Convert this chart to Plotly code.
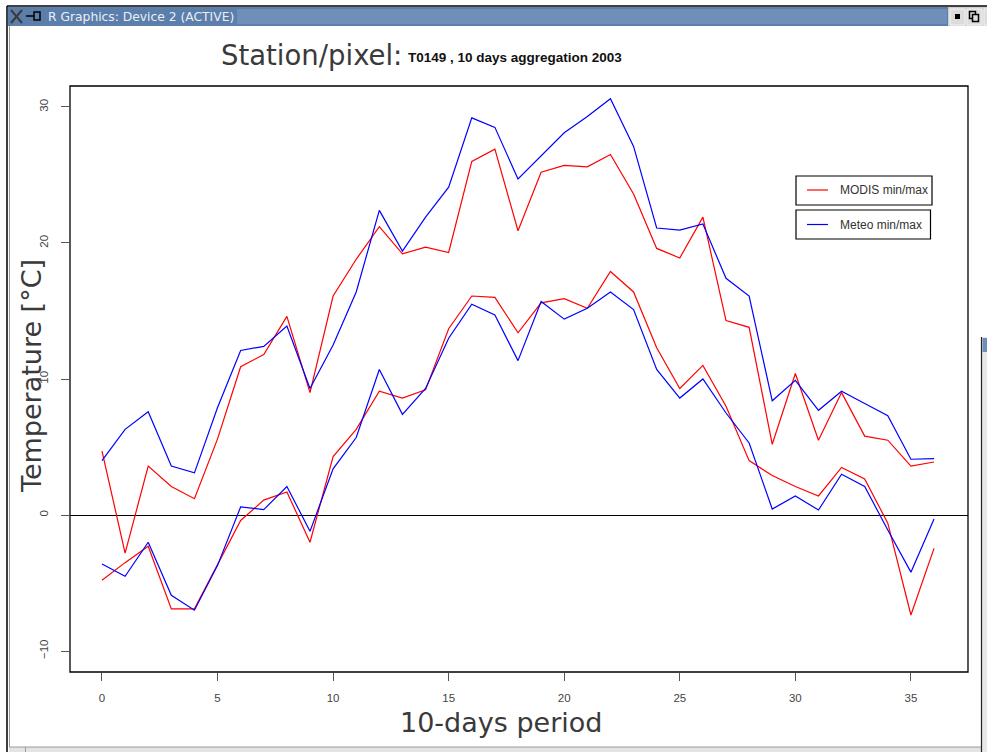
import plotly.graph_objects as go

# ---- data ----
period = list(range(37))
modis_max = [4.7, -2.8, 3.6, 2.1, 1.2, 5.6, 10.9, 11.8, 14.6, 9.0, 16.1, 18.8, 21.2, 19.2, 19.7, 19.3,
             26.0, 26.9, 20.9, 25.2, 25.7, 25.6, 26.5, 23.6, 19.6, 18.9, 21.9, 14.3, 13.8, 5.2, 10.4,
             5.5, 9.0, 5.8, 5.5, 3.6, 3.9]
meteo_max = [4.0, 6.3, 7.6, 3.6, 3.1, 7.9, 12.1, 12.4, 13.9, 9.3, 12.5, 16.4, 22.4, 19.4, 21.9, 24.1,
             29.2, 28.5, 24.7, 26.4, 28.1, 29.3, 30.6, 27.1, 21.1, 20.95, 21.4, 17.4, 16.1, 8.4, 9.9,
             7.7, 9.1, 8.2, 7.3, 4.1, 4.15]
modis_min = [-4.8, -3.5, -2.3, -6.9, -6.9, -3.7, -0.4, 1.1, 1.7, -2.0, 4.3, 6.3, 9.1, 8.6, 9.2, 13.7,
             16.1, 16.0, 13.4, 15.6, 15.9, 15.2, 17.9, 16.4, 12.3, 9.3, 11.0, 8.0, 4.0, 2.9, 2.1,
             1.4, 3.5, 2.65, -0.6, -7.35, -2.45]
meteo_min = [-3.6, -4.5, -2.0, -5.9, -7.0, -3.7, 0.6, 0.4, 2.1, -1.2, 3.4, 5.7, 10.7, 7.4, 9.3, 13.0,
             15.5, 14.7, 11.35, 15.7, 14.4, 15.2, 16.4, 15.1, 10.7, 8.6, 10.0, 7.5, 5.3, 0.44, 1.4,
             0.37, 3.0, 2.1, -1.1, -4.2, -0.3]
x_ticks = [0, 5, 10, 15, 20, 25, 30, 35]
y_ticks = [-10, 0, 10, 20, 30]
legend_labels = ["MODIS min/max", "Meteo min/max"]
series_colors = ["#ff0000", "#0000ff"]

W, H = 987, 752
L, R, T, B = 70, 19, 86, 80
PW, PH = W - L - R, H - T - B


def px(x):
    return (x - L) / PW


def py(y):
    return (H - B - y) / PH


fig = go.Figure()
for ys, col in [(modis_max, series_colors[0]), (meteo_max, series_colors[1]),
                (modis_min, series_colors[0]), (meteo_min, series_colors[1])]:
    fig.add_trace(go.Scatter(x=period, y=ys, mode="lines", line=dict(color=col, width=1.2),
                             showlegend=False, hoverinfo="skip"))

shapes = []
annotations = []

# plot box
shapes.append(dict(type="rect", xref="paper", yref="paper", x0=0, x1=1, y0=0, y1=1,
                   line=dict(color="black", width=1.3)))

# legend (two separate boxes, as in the reference)
leg = [(176, 205, 190), (210, 239, 224.5)]
for i, (y0, y1, yc) in enumerate(leg):
    shapes.append(dict(type="rect", xref="paper", yref="paper", x0=px(796), x1=px(932 if i == 0 else 930.5),
                       y0=py(y1), y1=py(y0), line=dict(color="black", width=1.2), fillcolor="white"))
    shapes.append(dict(type="line", xref="paper", yref="paper", x0=px(807), x1=px(828), y0=py(yc), y1=py(yc),
                       line=dict(color=series_colors[i], width=1.2)))
    annotations.append(dict(x=px(838), y=py(yc), xref="paper", yref="paper", text=legend_labels[i],
                            showarrow=False, xanchor="left", yanchor="middle",
                            font=dict(family="Liberation Sans", size=12, color="#333333")))

# titles
annotations.append(dict(x=px(219), y=py(55), xref="paper", yref="paper", text="Station/pixel:",
                        showarrow=False, xanchor="left", yanchor="middle",
                        font=dict(family="DejaVu Sans", size=27.5, color="#3a3a3a")))
annotations.append(dict(x=px(406), y=py(57), xref="paper", yref="paper",
                        text="<b>T0149 , 10 days aggregation 2003</b>",
                        showarrow=False, xanchor="left", yanchor="middle",
                        font=dict(family="Liberation Sans", size=13.5, color="#111111")))
annotations.append(dict(x=px(501), y=py(722), xref="paper", yref="paper", text="10-days period",
                        showarrow=False, xanchor="center", yanchor="middle",
                        font=dict(family="DejaVu Sans", size=27, color="#3a3a3a")))
annotations.append(dict(x=px(31), y=py(376), xref="paper", yref="paper", text="Temperature [°C]",
                        showarrow=False, xanchor="center", yanchor="middle", textangle=-90,
                        font=dict(family="DejaVu Sans", size=27, color="#3a3a3a")))

# ---- window chrome ----
shapes += [
    dict(type="rect", xref="paper", yref="paper", x0=px(8), x1=px(948), y0=py(26), y1=py(7),
         line=dict(width=0), fillcolor="#5b7eab"),
    dict(type="rect", xref="paper", yref="paper", x0=px(237), x1=px(947), y0=py(24), y1=py(9),
         line=dict(width=0), fillcolor="#6f8fb9"),
    dict(type="rect", xref="paper", yref="paper", x0=px(948), x1=px(987), y0=py(26), y1=py(7),
         line=dict(width=0), fillcolor="#cfcfcf"),
    dict(type="rect", xref="paper", yref="paper", x0=px(950), x1=px(965), y0=py(25), y1=py(9),
         line=dict(color="#f4f4f4", width=1), fillcolor="#dcdcdc"),
    dict(type="rect", xref="paper", yref="paper", x0=px(955), x1=px(960), y0=py(19), y1=py(14),
         line=dict(width=0), fillcolor="black"),
    dict(type="rect", xref="paper", yref="paper", x0=px(967), x1=px(982), y0=py(25), y1=py(9),
         line=dict(color="#f4f4f4", width=1), fillcolor="#dcdcdc"),
    dict(type="rect", xref="paper", yref="paper", x0=px(969.5), x1=px(975.5), y0=py(18.5), y1=py(11.5),
         line=dict(color="black", width=1.5)),
    dict(type="rect", xref="paper", yref="paper", x0=px(972.5), x1=px(978.5), y0=py(21.5), y1=py(14.5),
         line=dict(color="black", width=1.5), fillcolor="#dcdcdc"),
    dict(type="rect", xref="paper", yref="paper", x0=px(984), x1=px(988), y0=py(25), y1=py(9),
         line=dict(color="#f4f4f4", width=1), fillcolor="#dcdcdc"),
    dict(type="line", xref="paper", yref="paper", x0=px(7), x1=px(987), y0=py(6), y1=py(6),
         line=dict(color="black", width=1.5)),
    dict(type="line", xref="paper", yref="paper", x0=px(7), x1=px(7), y0=py(6), y1=py(752),
         line=dict(color="black", width=1.5)),
    dict(type="line", xref="paper", yref="paper", x0=px(9.5), x1=px(9.5), y0=py(26), y1=py(747),
         line=dict(color="#9a9a9a", width=1)),
    dict(type="rect", xref="paper", yref="paper", x0=px(9), x1=px(987), y0=py(752), y1=py(747),
         line=dict(width=0), fillcolor="#e4e4e4"),
    dict(type="line", xref="paper", yref="paper", x0=px(9), x1=px(987), y0=py(747), y1=py(747),
         line=dict(color="#9a9a9a", width=1)),
    dict(type="line", xref="paper", yref="paper", x0=px(25.5), x1=px(25.5), y0=py(747), y1=py(752),
         line=dict(color="#9a9a9a", width=1)),
    # window behind on the right
    dict(type="rect", xref="paper", yref="paper", x0=px(982), x1=px(988), y0=py(752), y1=py(337),
         line=dict(width=0), fillcolor="#e8e8e8"),
    dict(type="line", xref="paper", yref="paper", x0=px(981.5), x1=px(981.5), y0=py(752), y1=py(337),
         line=dict(color="#222222", width=1.2)),
    dict(type="rect", xref="paper", yref="paper", x0=px(982.5), x1=px(988), y0=py(352), y1=py(338),
         line=dict(width=0), fillcolor="#6f8fb9"),
    # X and pin icons
    dict(type="line", xref="paper", yref="paper", x0=px(11), x1=px(22), y0=py(10), y1=py(23),
         line=dict(color="#3a3a3a", width=2)),
    dict(type="line", xref="paper", yref="paper", x0=px(22), x1=px(11), y0=py(10), y1=py(23),
         line=dict(color="#3a3a3a", width=2)),
    dict(type="line", xref="paper", yref="paper", x0=px(26), x1=px(34), y0=py(16), y1=py(16),
         line=dict(color="black", width=1.5)),
    dict(type="rect", xref="paper", yref="paper", x0=px(34), x1=px(40), y0=py(20), y1=py(12),
         line=dict(color="black", width=1.5)),
]
annotations.append(dict(x=px(46), y=py(16.5), xref="paper", yref="paper",
                        text="R Graphics: Device 2 (ACTIVE)", showarrow=False,
                        xanchor="left", yanchor="middle",
                        font=dict(family="DejaVu Sans", size=12.3, color="#e9eef5")))

fig.update_layout(
    width=W, height=H,
    margin=dict(l=L, r=R, t=T, b=B, pad=0),
    paper_bgcolor="white", plot_bgcolor="white",
    shapes=shapes, annotations=annotations,
    showlegend=False,
    xaxis=dict(range=[-1.384, 37.47], tickmode="array", tickvals=x_ticks,
               ticks="outside", ticklen=8, tickcolor="#555555", tickwidth=1,
               showgrid=False, zeroline=False, showline=False, ticklabelstandoff=7,
               tickfont=dict(family="Liberation Sans", size=11.5, color="#444444")),
    yaxis=dict(range=[-11.54, 31.54], tickmode="array", tickvals=y_ticks,
               ticks="outside", ticklen=8, tickcolor="#555555", tickwidth=1,
               showgrid=False, zeroline=True, zerolinecolor="black", zerolinewidth=1.2,
               showline=False, tickangle=-90, ticklabelstandoff=8,
               tickfont=dict(family="Liberation Sans", size=11.5, color="#444444")),
)

fig.write_html("out.html", config={"displayModeBar": False},
               post_script="document.body.style.margin='0';")
